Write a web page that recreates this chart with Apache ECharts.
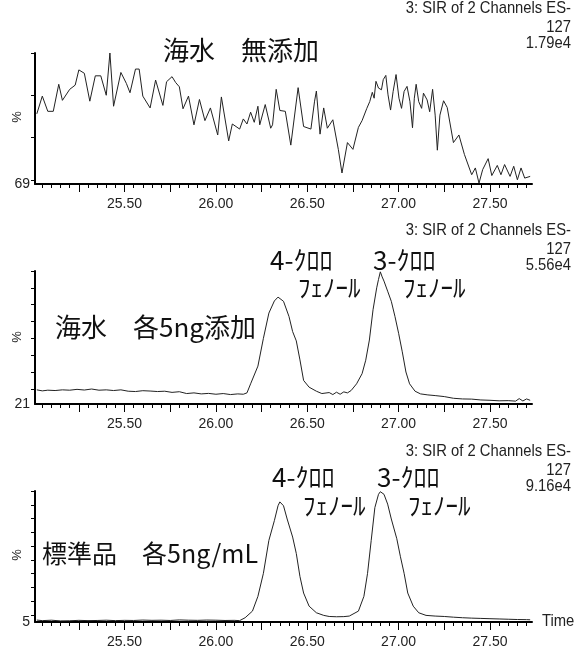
<!DOCTYPE html>
<html>
<head>
<meta charset="utf-8">
<script src="https://cdn.jsdelivr.net/npm/echarts@6/dist/echarts.min.js"></script>
<style>
  html, body { margin: 0; padding: 0; background: #fff; }
  #chart { width: 577px; height: 662px; }
</style>
</head>
<body>
<div id="chart"></div>
<script>
// Retention time (min) and relative intensity (%) for the three SIR traces
const timesBlank = [25.02,25.05,25.08,25.11,25.14,25.16,25.20,25.23,25.25,25.28,25.31,25.34,25.37,25.40,25.42,25.44,25.48,25.51,25.53,25.56,25.58,25.60,25.64,25.65,25.67,25.71,25.73,25.76,25.78,25.80,25.82,25.85,25.88,25.91,25.94,25.97,26.01,26.03,26.07,26.09,26.13,26.15,26.17,26.19,26.21,26.23,26.24,26.27,26.30,26.31,26.33,26.35,26.38,26.41,26.45,26.48,26.52,26.54,26.55,26.57,26.59,26.61,26.64,26.67,26.69,26.72,26.75,26.78,26.80,26.826,26.842,26.856,26.866,26.876,26.89,26.906,26.916,26.93,26.942,26.956,26.97,26.986,27.002,27.016,27.03,27.046,27.062,27.076,27.086,27.096,27.11,27.126,27.136,27.156,27.17,27.186,27.20,27.212,27.226,27.246,27.266,27.30,27.33,27.36,27.40,27.42,27.44,27.46,27.49,27.51,27.54,27.56,27.58,27.61,27.63,27.65,27.67,27.69,27.72];
const valuesBlank = [85.6,89.8,86.2,86.2,92.6,88.8,91.4,92.4,96.0,95.2,88.6,94.6,94.6,90.0,100,87.4,95.4,92.8,90.6,96.2,96.2,89.8,87.0,87.0,93.6,87.6,93.2,94.4,93.0,92.0,86.8,89.8,83.0,89.0,84.0,87.0,80.6,89.6,79.2,83.2,82.0,84.4,83.2,86.0,83.6,87.4,83.0,87.8,82.2,83.0,91.4,86.4,86.2,78.2,91.8,82.6,82.0,88.6,91.0,80.8,87.0,82.2,84.2,77.2,71.6,78.8,77.2,82.4,84.0,86.9,88.5,90.7,89.3,93.3,91.7,91.3,93.7,94.7,90.1,86.5,90.9,94.9,89.3,86.9,90.9,92.1,88.5,82.3,89.3,92.6,88.5,86.9,90.5,88.9,86.1,91.4,85.3,77.0,85.3,88.7,87.1,78.8,80.6,76.0,71.2,72.8,69.2,72.4,75.0,71.0,73.4,71.2,73.6,70.8,73.2,70.0,72.8,70.4,70.8];

const timesSpiked = [25.02,25.05,25.08,25.12,25.16,25.20,25.24,25.28,25.32,25.36,25.40,25.44,25.48,25.52,25.56,25.60,25.64,25.68,25.72,25.76,25.80,25.84,25.88,25.92,25.96,26.00,26.04,26.08,26.12,26.15,26.17,26.19,26.23,26.26,26.29,26.32,26.34,26.37,26.40,26.42,26.44,26.46,26.48,26.51,26.55,26.58,26.62,26.64,26.66,26.68,26.70,26.72,26.74,26.77,26.80,26.82,26.84,26.86,26.88,26.89,26.90,26.91,26.92,26.94,26.96,26.98,27.00,27.02,27.04,27.06,27.09,27.12,27.16,27.20,27.25,27.30,27.35,27.40,27.45,27.50,27.55,27.60,27.64,27.66,27.68,27.70,27.72];
const valuesSpiked = [29.4,28.8,29.2,29.0,29.4,29.2,29.7,29.3,29.9,29.2,29.4,29.0,29.4,28.6,28.4,28.9,28.7,28.4,28.6,27.9,28.3,27.2,27.6,27.0,27.3,26.8,27.2,26.6,27.0,26.8,27.6,33.0,43.5,60.0,75.0,82.2,84.5,82.0,73.0,64.0,58.5,47.2,35.0,31.0,28.6,27.2,27.8,26.6,28.0,26.8,28.2,27.6,29.0,33.0,39.0,47.0,59.0,77.0,90.0,95.0,99.5,96.5,94.0,88.0,82.0,73.0,63.0,52.0,40.0,33.0,28.6,27.0,26.4,26.0,25.4,24.4,24.0,23.9,23.4,23.2,22.9,23.0,22.7,24.2,22.8,24.0,23.2];

const timesStandard = [25.02,25.05,25.10,25.15,25.20,25.25,25.30,25.35,25.40,25.45,25.50,25.55,25.60,25.65,25.70,25.75,25.80,25.85,25.90,25.95,26.00,26.05,26.10,26.13,26.16,26.20,26.23,26.26,26.29,26.32,26.34,26.35,26.37,26.39,26.42,26.44,26.46,26.48,26.51,26.55,26.59,26.62,26.66,26.70,26.73,26.78,26.81,26.83,26.85,26.87,26.89,26.90,26.92,26.94,26.96,26.99,27.01,27.03,27.05,27.08,27.11,27.15,27.20,27.25,27.30,27.35,27.40,27.45,27.50,27.55,27.60,27.65,27.70,27.72];
const valuesStandard = [6.4,6.0,6.3,5.8,5.9,6.2,6.0,6.1,6.3,6.0,6.2,6.1,6.4,6.2,6.3,6.1,6.5,6.3,6.2,6.4,6.3,6.1,6.2,6.0,8.1,12.9,23.6,40.3,64.2,78.5,89.3,92.1,89.3,79.7,66.6,54.7,38.0,26.0,16.5,11.7,9.8,9.0,8.8,8.9,9.3,12.9,23.6,40.3,64.2,88.0,97.6,99.5,97.6,90.5,79.7,65.4,52.3,40.3,26.0,16.5,11.7,9.8,9.3,9.0,8.5,8.1,7.8,7.6,7.4,7.2,7.0,6.8,6.7,6.6];

// Axis ranges and tick labels
const timeRange = [25.01, 27.73];
const timeLabels = [25.5, 26.0, 26.5, 27.0, 27.5];
const panelMins = [69, 21, 5];
const panelScales = ['1.79e4', '5.56e4', '9.16e4'];
const channelTitle = '3: SIR of 2 Channels ES-';
const channelMass = '127';
const sampleNames = ['海水　無添加', '海水　各5ng添加', '標準品　各5ng/mL'];
const peakNames = [['4-ｸﾛﾛ', 'ﾌｪﾉｰﾙ'], ['3-ｸﾛﾛ', 'ﾌｪﾉｰﾙ']];

const narrow = '"Liberation Sans", Arial, sans-serif';
const jp = '"Noto Sans CJK JP", "Noto Sans", sans-serif';

// minor ticks every 0.05 min, major every 0.25 min
const minorTicks = [], majorTicks = [];
for (let k = 501; k <= 554; k++) minorTicks.push(Math.round(k * 5) / 100);
for (let k = 101; k <= 110; k++) majorTicks.push(Math.round(k * 25) / 100);

const grids = [
  { left: 35, top: 53, width: 497, height: 131, outerBoundsMode: 'none' },
  { left: 35, top: 271, width: 497, height: 133, outerBoundsMode: 'none' },
  { left: 35, top: 491, width: 497, height: 131, outerBoundsMode: 'none' }
];
const seriesData = [
  timesBlank.map((t, i) => [t, valuesBlank[i]]),
  timesSpiked.map((t, i) => [t, valuesSpiked[i]]),
  timesStandard.map((t, i) => [t, valuesStandard[i]])
];

const xAxes = [], yAxes = [], series = [];
grids.forEach((g, i) => {
  xAxes.push({
    gridIndex: i, type: 'value', min: timeRange[0], max: timeRange[1],
    axisLine: { onZero: false, lineStyle: { color: '#000', width: 2 } },
    axisTick: { customValues: minorTicks, length: 4, lineStyle: { color: '#000', width: 1 } },
    axisLabel: { show: false }, splitLine: { show: false }
  });
  xAxes.push({
    gridIndex: i, type: 'value', min: timeRange[0], max: timeRange[1], position: 'bottom',
    axisLine: { show: false, onZero: false },
    axisTick: { customValues: majorTicks, length: 8, lineStyle: { color: '#000', width: 1 } },
    axisLabel: { customValues: timeLabels, formatter: v => v.toFixed(2), margin: 13,
      fontFamily: narrow, fontSize: 14, color: '#222' },
    splitLine: { show: false }
  });
  const ticks = [];
  for (let v = 100; v > panelMins[i]; v -= 10) ticks.push(v);
  yAxes.push({
    gridIndex: i, type: 'value', min: panelMins[i], max: 100,
    axisLine: { show: true, lineStyle: { color: '#000', width: 2 } },
    axisTick: { show: true, customValues: ticks, length: 4, lineStyle: { color: '#000', width: 1 } },
    axisLabel: { customValues: [panelMins[i]], margin: 5, fontFamily: narrow, fontSize: 14, color: '#222' },
    splitLine: { show: false }
  });
  series.push({
    type: 'line', xAxisIndex: i * 2, yAxisIndex: i, data: seriesData[i],
    showSymbol: false, symbol: 'none', silent: true,
    lineStyle: { color: '#222', width: 1 }
  });
});

function txt(x, y, text, font, opts) {
  opts = opts || {};
  const el = { type: 'text', x: x, y: y, silent: true,
    style: { text: text, font: font, fill: opts.fill || '#111', textAlign: opts.align || 'left', textVerticalAlign: 'middle' } };
  if (opts.scaleX) el.scaleX = opts.scaleX;
  if (opts.rotation) el.rotation = opts.rotation;
  return el;
}

const headerMids = [8, 230, 451];
const percentMids = [117, 337, 555];
const graphic = [];
headerMids.forEach((y, i) => {
  graphic.push(txt(571, y, channelTitle, '17px ' + narrow, { align: 'right', scaleX: 0.87, fill: '#222' }));
  graphic.push(txt(571, y + 19, channelMass, '17px ' + narrow, { align: 'right', scaleX: 0.87, fill: '#222' }));
  graphic.push(txt(571, y + 35, panelScales[i], '17px ' + narrow, { align: 'right', scaleX: 0.87, fill: '#222' }));
  // y-axis unit
  graphic.push(txt(17, percentMids[i], '%', '13px ' + narrow, { align: 'center', rotation: Math.PI / 2, fill: '#222' }));
});
// sample captions
graphic.push(txt(163, 50, sampleNames[0], '26px ' + jp));
graphic.push(txt(55, 327, sampleNames[1], '26px ' + jp));
graphic.push(txt(42, 553, sampleNames[2], '25px ' + jp));
// peak labels
const peakLabelPos = [
  [[270, 260], [298, 287], [373, 260], [403, 287]],
  [[272, 477], [303, 505], [377, 477], [408, 505]]
];
peakLabelPos.forEach(p => {
  graphic.push(txt(p[0][0], p[0][1], peakNames[0][0], '26px ' + jp));
  graphic.push(txt(p[1][0], p[1][1], peakNames[0][1], '25px ' + jp));
  graphic.push(txt(p[2][0], p[2][1], peakNames[1][0], '26px ' + jp));
  graphic.push(txt(p[3][0], p[3][1], peakNames[1][1], '25px ' + jp));
});
graphic.push(txt(542, 621, 'Time', '17px ' + narrow, { scaleX: 0.87, fill: '#222' }));

const chart = echarts.init(document.getElementById('chart'), null, { renderer: 'canvas' });
chart.setOption({
  animation: false,
  backgroundColor: '#fff',
  grid: grids,
  xAxis: xAxes,
  yAxis: yAxes,
  series: series,
  graphic: graphic
});
</script>
</body>
</html>
